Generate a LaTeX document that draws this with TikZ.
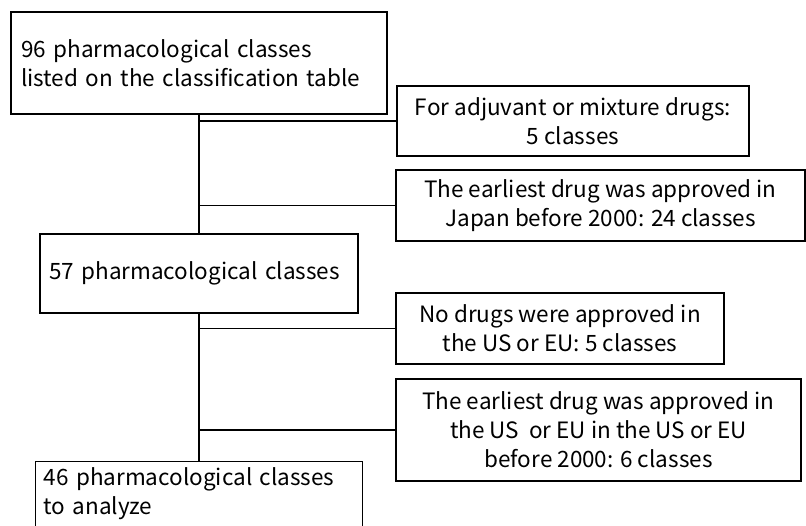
\documentclass[tikz,border=0pt]{standalone}
\usepackage{fontspec}
\setmainfont{Noto Sans CJK JP}
\usetikzlibrary{positioning}

\begin{document}
\begin{tikzpicture}[x=1pt, y=-1pt, line width=1.3pt,
      every node/.style={font=\fontsize{22.5}{29}\selectfont},
      box/.style={draw, inner ysep=0pt, align=center},
      stage/.style={box, align=left}]
    \clip (0,0) rectangle (806,525);
    \node[stage, inner xsep=10pt, text width=356pt, minimum height=102pt] (all)   at (199,63)    {96 pharmacological classes\\listed on the classification table};
    \node[box, minimum width=352pt, minimum height=70pt]                    (adj)   at (573,121)   {For adjuvant or mixture drugs:\\5 classes};
    \node[box, minimum width=409pt, minimum height=71pt]                    (jpn)   at (600.5,205.5) {The earliest drug was approved in\\Japan before 2000: 24 classes};
    \node[stage, inner xsep=9pt, text width=300pt, minimum height=79pt]     (mid)   at (199,273.5) {57 pharmacological classes};
    \node[box, minimum width=328pt, minimum height=71pt]                    (noapp) at (560,328.5) {No drugs were approved in\\the US or EU: 5 classes};
    \node[box, minimum width=405pt, minimum height=102pt]                   (early) at (598.5,430) {The earliest drug was approved in\\the US~ or EU in the US or EU\\before 2000: 6 classes};
    \node[stage, anchor=north west, inner xsep=8pt, inner ysep=6pt, text width=311pt,
          text height=18pt, text depth=80pt]                                 (final) at (35,461)   {46 pharmacological classes\\to analyze};
    \draw (all.south) -- (mid.north);
    \draw (all.south |- adj.west) -- (adj.west);
    \draw (all.south |- jpn.west) -- (jpn.west);
    \draw (mid.south) -- (final.north -| mid.south);
    \draw (mid.south |- noapp.west) -- (noapp.west);
    \draw (mid.south |- early.west) -- (early.west);
  \end{tikzpicture}
\end{document}
